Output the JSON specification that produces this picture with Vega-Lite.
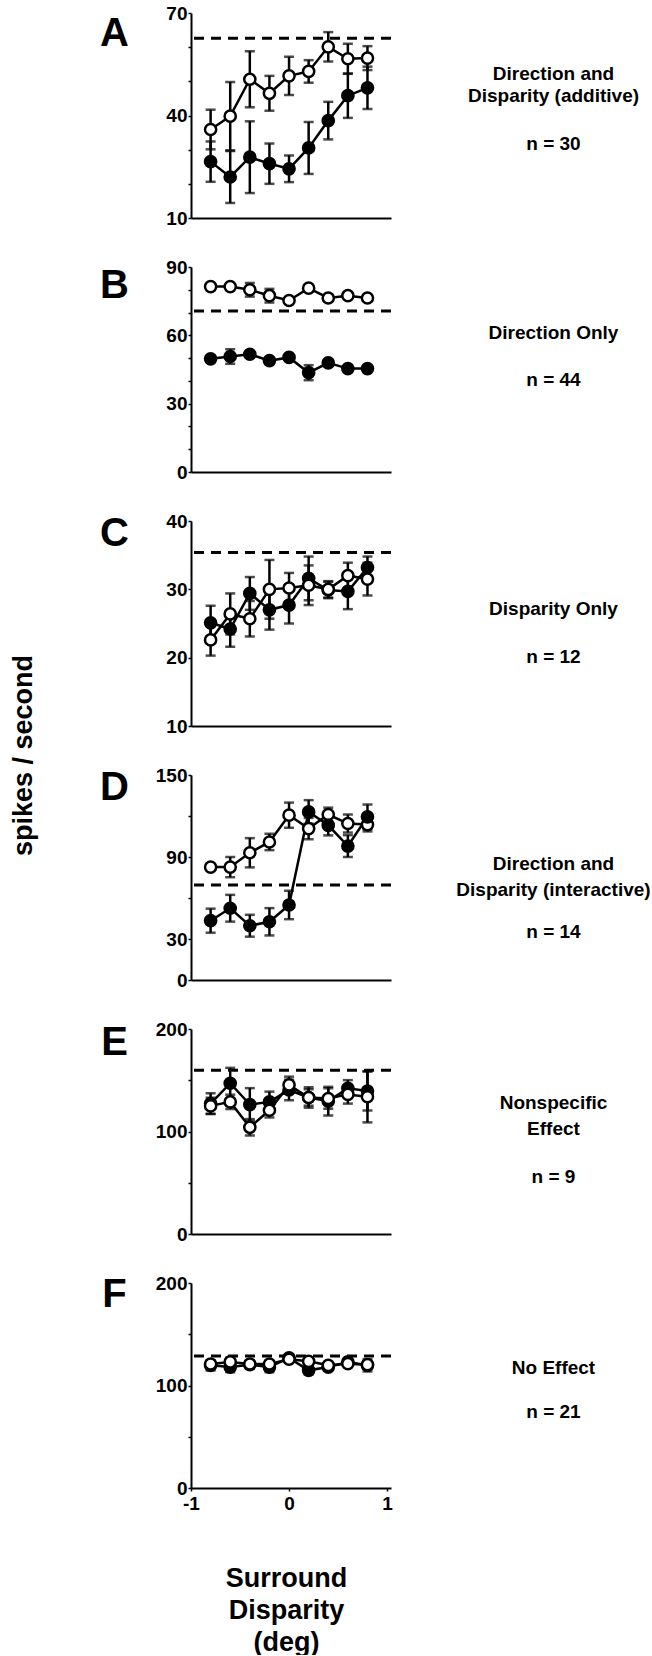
{
"$schema": "https://vega.github.io/schema/vega-lite/v6.json",
"padding": {"left": 9, "top": 4, "right": 5, "bottom": 0},
"datasets": {
"pts": [
{"panel":"A","cond":"open","x":-0.8,"y":35.9,"err":5.8},{"panel":"A","cond":"open","x":-0.6,"y":39.8,"err":10},{"panel":"A","cond":"open","x":-0.4,"y":50.6,"err":8.2},{"panel":"A","cond":"open","x":-0.2,"y":46.5,"err":5.1},{"panel":"A","cond":"open","x":0,"y":51.6,"err":5.6},{"panel":"A","cond":"open","x":0.2,"y":52.9,"err":3.3},{"panel":"A","cond":"open","x":0.4,"y":60.1,"err":4.3},{"panel":"A","cond":"open","x":0.6,"y":56.6,"err":4.4},{"panel":"A","cond":"open","x":0.8,"y":56.8,"err":3.5},
{"panel":"A","cond":"filled","x":-0.8,"y":26.5,"err":5.9},{"panel":"A","cond":"filled","x":-0.6,"y":22.0,"err":7.6},{"panel":"A","cond":"filled","x":-0.4,"y":27.8,"err":10.5},{"panel":"A","cond":"filled","x":-0.2,"y":25.9,"err":5.9},{"panel":"A","cond":"filled","x":0,"y":24.4,"err":3.9},{"panel":"A","cond":"filled","x":0.2,"y":30.5,"err":7.6},{"panel":"A","cond":"filled","x":0.4,"y":38.5,"err":5.5},{"panel":"A","cond":"filled","x":0.6,"y":45.8,"err":6.5},{"panel":"A","cond":"filled","x":0.8,"y":48.1,"err":6.2},
{"panel":"B","cond":"open","x":-0.8,"y":81.4,"err":1},{"panel":"B","cond":"open","x":-0.6,"y":81.4,"err":1},{"panel":"B","cond":"open","x":-0.4,"y":80.0,"err":3},{"panel":"B","cond":"open","x":-0.2,"y":77.4,"err":3},{"panel":"B","cond":"open","x":0,"y":75.3,"err":1},{"panel":"B","cond":"open","x":0.2,"y":80.7,"err":1},{"panel":"B","cond":"open","x":0.4,"y":76.4,"err":1},{"panel":"B","cond":"open","x":0.6,"y":77.4,"err":1},{"panel":"B","cond":"open","x":0.8,"y":76.4,"err":1},
{"panel":"B","cond":"filled","x":-0.8,"y":49.7,"err":1},{"panel":"B","cond":"filled","x":-0.6,"y":50.7,"err":3.2},{"panel":"B","cond":"filled","x":-0.4,"y":51.7,"err":1},{"panel":"B","cond":"filled","x":-0.2,"y":48.9,"err":1},{"panel":"B","cond":"filled","x":0,"y":50.3,"err":1},{"panel":"B","cond":"filled","x":0.2,"y":43.6,"err":3.3},{"panel":"B","cond":"filled","x":0.4,"y":47.9,"err":1},{"panel":"B","cond":"filled","x":0.6,"y":45.4,"err":1},{"panel":"B","cond":"filled","x":0.8,"y":45.4,"err":1},
{"panel":"C","cond":"filled","x":-0.8,"y":25.1,"err":2.5},{"panel":"C","cond":"filled","x":-0.6,"y":24.2,"err":2.6},{"panel":"C","cond":"filled","x":-0.4,"y":29.4,"err":2.4},{"panel":"C","cond":"filled","x":-0.2,"y":27.0,"err":2.9},{"panel":"C","cond":"filled","x":0,"y":27.7,"err":2.7},{"panel":"C","cond":"filled","x":0.2,"y":31.6,"err":3.2},{"panel":"C","cond":"filled","x":0.4,"y":29.9,"err":1.2},{"panel":"C","cond":"filled","x":0.6,"y":29.7,"err":2.6},{"panel":"C","cond":"filled","x":0.8,"y":33.2,"err":1.6},
{"panel":"C","cond":"open","x":-0.8,"y":22.6,"err":2.3},{"panel":"C","cond":"open","x":-0.6,"y":26.4,"err":3.0},{"panel":"C","cond":"open","x":-0.4,"y":25.7,"err":2.6},{"panel":"C","cond":"open","x":-0.2,"y":30.0,"err":4.3},{"panel":"C","cond":"open","x":0,"y":30.2,"err":2.2},{"panel":"C","cond":"open","x":0.2,"y":30.6,"err":2.9},{"panel":"C","cond":"open","x":0.4,"y":30.0,"err":1.2},{"panel":"C","cond":"open","x":0.6,"y":32.0,"err":1.9},{"panel":"C","cond":"open","x":0.8,"y":31.5,"err":2.4},
{"panel":"D","cond":"open","x":-0.8,"y":82.6,"err":1.5},{"panel":"D","cond":"open","x":-0.6,"y":82.6,"err":7.4},{"panel":"D","cond":"open","x":-0.4,"y":93.1,"err":10.7},{"panel":"D","cond":"open","x":-0.2,"y":101.0,"err":6},{"panel":"D","cond":"open","x":0,"y":120.6,"err":9.2},{"panel":"D","cond":"open","x":0.2,"y":110.8,"err":7.8},{"panel":"D","cond":"open","x":0.4,"y":121.1,"err":5},{"panel":"D","cond":"open","x":0.6,"y":114.5,"err":6.6},{"panel":"D","cond":"open","x":0.8,"y":113.7,"err":5},
{"panel":"D","cond":"filled","x":-0.8,"y":43.4,"err":8.8},{"panel":"D","cond":"filled","x":-0.6,"y":52.5,"err":9.8},{"panel":"D","cond":"filled","x":-0.4,"y":39.7,"err":8},{"panel":"D","cond":"filled","x":-0.2,"y":42.6,"err":10},{"panel":"D","cond":"filled","x":0,"y":54.9,"err":10.4},{"panel":"D","cond":"filled","x":0.2,"y":123.0,"err":8.6},{"panel":"D","cond":"filled","x":0.4,"y":113.2,"err":7.4},{"panel":"D","cond":"filled","x":0.6,"y":98.0,"err":8},{"panel":"D","cond":"filled","x":0.8,"y":119.4,"err":9},
{"panel":"E","cond":"filled","x":-0.8,"y":127.3,"err":10},{"panel":"E","cond":"filled","x":-0.6,"y":147.1,"err":15},{"panel":"E","cond":"filled","x":-0.4,"y":126.3,"err":16},{"panel":"E","cond":"filled","x":-0.2,"y":128.9,"err":10},{"panel":"E","cond":"filled","x":0,"y":140.5,"err":10},{"panel":"E","cond":"filled","x":0.2,"y":133.2,"err":10},{"panel":"E","cond":"filled","x":0.4,"y":129.6,"err":14},{"panel":"E","cond":"filled","x":0.6,"y":142.1,"err":8},{"panel":"E","cond":"filled","x":0.8,"y":139.5,"err":19},
{"panel":"E","cond":"open","x":-0.8,"y":125.0,"err":8},{"panel":"E","cond":"open","x":-0.6,"y":128.9,"err":7},{"panel":"E","cond":"open","x":-0.4,"y":104.1,"err":8},{"panel":"E","cond":"open","x":-0.2,"y":120.7,"err":7},{"panel":"E","cond":"open","x":0,"y":145.5,"err":8},{"panel":"E","cond":"open","x":0.2,"y":133.2,"err":8},{"panel":"E","cond":"open","x":0.4,"y":132.2,"err":10},{"panel":"E","cond":"open","x":0.6,"y":136.2,"err":9},{"panel":"E","cond":"open","x":0.8,"y":133.9,"err":25},
{"panel":"F","cond":"filled","x":-0.8,"y":119.7,"err":5},{"panel":"F","cond":"filled","x":-0.6,"y":118.0,"err":5},{"panel":"F","cond":"filled","x":-0.4,"y":120.3,"err":4},{"panel":"F","cond":"filled","x":-0.2,"y":118.0,"err":5},{"panel":"F","cond":"filled","x":0,"y":126.9,"err":3},{"panel":"F","cond":"filled","x":0.2,"y":114.8,"err":4},{"panel":"F","cond":"filled","x":0.4,"y":118.0,"err":3},{"panel":"F","cond":"filled","x":0.6,"y":123.0,"err":3},{"panel":"F","cond":"filled","x":0.8,"y":119.7,"err":6},
{"panel":"F","cond":"open","x":-0.8,"y":121.0,"err":3},{"panel":"F","cond":"open","x":-0.6,"y":123.0,"err":4},{"panel":"F","cond":"open","x":-0.4,"y":121.0,"err":3},{"panel":"F","cond":"open","x":-0.2,"y":121.0,"err":3},{"panel":"F","cond":"open","x":0,"y":125.6,"err":3},{"panel":"F","cond":"open","x":0.2,"y":123.6,"err":3},{"panel":"F","cond":"open","x":0.4,"y":119.7,"err":3},{"panel":"F","cond":"open","x":0.6,"y":121.3,"err":3},{"panel":"F","cond":"open","x":0.8,"y":120.3,"err":3}
],
"base": [
{"panel":"A","level":62.6},{"panel":"B","level":70.7},{"panel":"C","level":35.4},{"panel":"D","level":69.6},{"panel":"E","level":159.7},{"panel":"F","level":128.9}
]
},
"title": {"text": "spikes / second", "orient": "left", "anchor": "middle", "fontSize": 27, "offset": 62, "dx": 74},
"spacing": 30,
"vconcat": [
{
"width": 200, "height": 205,
"resolve": {"axis": {"y": "independent"}},
"layer": [
{"data": {"name": "base"}, "transform": [{"filter": "datum.panel == 'A'"}], "mark": {"type": "rule", "strokeDash": [10, 7], "strokeWidth": 3, "color": "black"},
 "encoding": {"y": {"field": "level", "type": "quantitative", "scale": {"domain": [10, 70], "nice": false, "zero": false},
  "axis": {"title": "A", "titleX": -77, "titleY": 20, "values": [10, 20, 30, 40, 50, 60, 70], "labelExpr": "indexof([10,40,70], datum.value) >= 0 ? datum.label : ''"}}}},
{"data": {"name": "pts"}, "transform": [{"filter": "datum.panel == 'A'"}], "mark": {"type": "errorbar", "ticks": true, "color": "black", "thickness": 2.5, "size": 10},
 "encoding": {"x": {"field": "x", "type": "quantitative", "scale": {"domain": [-1, 1.04], "nice": false, "zero": false},
   "axis": {"labels": false, "ticks": false, "title": "n = 30", "titleX": 362, "titleY": -84, "titleAlign": "center", "titleBaseline": "top", "titleFontSize": 19, "titleAngle": 0}},
  "y": {"field": "y", "type": "quantitative", "scale": {"domain": [10, 70], "nice": false, "zero": false}, "axis": null}, "yError": {"field": "err"}, "detail": {"field": "cond"}}},
{"data": {"name": "pts"}, "transform": [{"filter": "datum.panel == 'A'"}], "mark": {"type": "line", "color": "black", "strokeWidth": 2.5},
 "encoding": {"x": {"field": "x", "type": "quantitative", "scale": {"domain": [-1, 1.04], "nice": false, "zero": false}},
  "y": {"field": "y", "type": "quantitative", "scale": {"domain": [10, 70], "nice": false, "zero": false},
   "axis": {"orient": "right", "labels": false, "ticks": false, "domain": false, "title": ["Direction and", "Disparity (additive)"], "titleX": 162, "titleY": 51, "titleFontSize": 19, "titleLineHeight": 22, "titleBaseline": "top"}}, "detail": {"field": "cond"}}},
{"data": {"name": "pts"}, "transform": [{"filter": "datum.panel == 'A'"}], "mark": {"type": "point", "shape": "circle", "filled": true, "stroke": "black", "strokeWidth": 2.5, "size": 125, "opacity": 1},
 "encoding": {"x": {"field": "x", "type": "quantitative", "scale": {"domain": [-1, 1.04], "nice": false, "zero": false}},
  "y": {"field": "y", "type": "quantitative", "scale": {"domain": [10, 70], "nice": false, "zero": false}, "axis": null},
  "fill": {"field": "cond", "type": "nominal", "scale": {"domain": ["filled", "open"], "range": ["black", "white"]}, "legend": null}}}
]
},
{
"width": 200, "height": 205,
"resolve": {"axis": {"y": "independent"}},
"layer": [
{"data": {"name": "base"}, "transform": [{"filter": "datum.panel == 'B'"}], "mark": {"type": "rule", "strokeDash": [10, 7], "strokeWidth": 3, "color": "black"},
 "encoding": {"y": {"field": "level", "type": "quantitative", "scale": {"domain": [0, 90], "nice": false, "zero": false},
  "axis": {"title": "B", "titleX": -77, "titleY": 18, "values": [0, 10, 20, 30, 40, 50, 60, 70, 80, 90], "labelExpr": "indexof([0,30,60,90], datum.value) >= 0 ? datum.label : ''"}}}},
{"data": {"name": "pts"}, "transform": [{"filter": "datum.panel == 'B'"}], "mark": {"type": "errorbar", "ticks": true, "color": "black", "thickness": 2.5, "size": 10},
 "encoding": {"x": {"field": "x", "type": "quantitative", "scale": {"domain": [-1, 1.04], "nice": false, "zero": false},
   "axis": {"labels": false, "ticks": false, "title": "n = 44", "titleX": 362, "titleY": -102, "titleAlign": "center", "titleBaseline": "top", "titleFontSize": 19, "titleAngle": 0}},
  "y": {"field": "y", "type": "quantitative", "scale": {"domain": [0, 90], "nice": false, "zero": false}, "axis": null}, "yError": {"field": "err"}, "detail": {"field": "cond"}}},
{"data": {"name": "pts"}, "transform": [{"filter": "datum.panel == 'B'"}], "mark": {"type": "line", "color": "black", "strokeWidth": 2.5},
 "encoding": {"x": {"field": "x", "type": "quantitative", "scale": {"domain": [-1, 1.04], "nice": false, "zero": false}},
  "y": {"field": "y", "type": "quantitative", "scale": {"domain": [0, 90], "nice": false, "zero": false},
   "axis": {"orient": "right", "labels": false, "ticks": false, "domain": false, "title": "Direction Only", "titleX": 162, "titleY": 56, "titleFontSize": 19, "titleBaseline": "top"}}, "detail": {"field": "cond"}}},
{"data": {"name": "pts"}, "transform": [{"filter": "datum.panel == 'B'"}], "mark": {"type": "point", "shape": "circle", "filled": true, "stroke": "black", "strokeWidth": 2.5, "size": 125, "opacity": 1},
 "encoding": {"x": {"field": "x", "type": "quantitative", "scale": {"domain": [-1, 1.04], "nice": false, "zero": false}},
  "y": {"field": "y", "type": "quantitative", "scale": {"domain": [0, 90], "nice": false, "zero": false}, "axis": null},
  "fill": {"field": "cond", "type": "nominal", "scale": {"domain": ["filled", "open"], "range": ["black", "white"]}, "legend": null}}}
]
},
{
"width": 200, "height": 205,
"resolve": {"axis": {"y": "independent"}},
"layer": [
{"data": {"name": "base"}, "transform": [{"filter": "datum.panel == 'C'"}], "mark": {"type": "rule", "strokeDash": [10, 7], "strokeWidth": 3, "color": "black"},
 "encoding": {"y": {"field": "level", "type": "quantitative", "scale": {"domain": [10, 40], "nice": false, "zero": false},
  "axis": {"title": "C", "titleX": -77, "titleY": 12, "values": [10, 20, 30, 40]}}}},
{"data": {"name": "pts"}, "transform": [{"filter": "datum.panel == 'C'"}], "mark": {"type": "errorbar", "ticks": true, "color": "black", "thickness": 2.5, "size": 10},
 "encoding": {"x": {"field": "x", "type": "quantitative", "scale": {"domain": [-1, 1.04], "nice": false, "zero": false},
   "axis": {"labels": false, "ticks": false, "title": "n = 12", "titleX": 362, "titleY": -79, "titleAlign": "center", "titleBaseline": "top", "titleFontSize": 19, "titleAngle": 0}},
  "y": {"field": "y", "type": "quantitative", "scale": {"domain": [10, 40], "nice": false, "zero": false}, "axis": null}, "yError": {"field": "err"}, "detail": {"field": "cond"}}},
{"data": {"name": "pts"}, "transform": [{"filter": "datum.panel == 'C'"}], "mark": {"type": "line", "color": "black", "strokeWidth": 2.5},
 "encoding": {"x": {"field": "x", "type": "quantitative", "scale": {"domain": [-1, 1.04], "nice": false, "zero": false}},
  "y": {"field": "y", "type": "quantitative", "scale": {"domain": [10, 40], "nice": false, "zero": false},
   "axis": {"orient": "right", "labels": false, "ticks": false, "domain": false, "title": "Disparity Only", "titleX": 162, "titleY": 78, "titleFontSize": 19, "titleBaseline": "top"}}, "detail": {"field": "cond"}}},
{"data": {"name": "pts"}, "transform": [{"filter": "datum.panel == 'C'"}], "mark": {"type": "point", "shape": "circle", "filled": true, "stroke": "black", "strokeWidth": 2.5, "size": 125, "opacity": 1},
 "encoding": {"x": {"field": "x", "type": "quantitative", "scale": {"domain": [-1, 1.04], "nice": false, "zero": false}},
  "y": {"field": "y", "type": "quantitative", "scale": {"domain": [10, 40], "nice": false, "zero": false}, "axis": null},
  "fill": {"field": "cond", "type": "nominal", "scale": {"domain": ["filled", "open"], "range": ["black", "white"]}, "legend": null}}}
]
},
{
"width": 200, "height": 205,
"resolve": {"axis": {"y": "independent"}},
"layer": [
{"data": {"name": "base"}, "transform": [{"filter": "datum.panel == 'D'"}], "mark": {"type": "rule", "strokeDash": [10, 7], "strokeWidth": 3, "color": "black"},
 "encoding": {"y": {"field": "level", "type": "quantitative", "scale": {"domain": [0, 150], "nice": false, "zero": false},
  "axis": {"title": "D", "titleX": -77, "titleY": 12, "values": [0, 30, 60, 90, 120, 150], "labelExpr": "indexof([0,30,90,150], datum.value) >= 0 ? datum.label : ''"}}}},
{"data": {"name": "pts"}, "transform": [{"filter": "datum.panel == 'D'"}], "mark": {"type": "errorbar", "ticks": true, "color": "black", "thickness": 2.5, "size": 10},
 "encoding": {"x": {"field": "x", "type": "quantitative", "scale": {"domain": [-1, 1.04], "nice": false, "zero": false},
   "axis": {"labels": false, "ticks": false, "title": "n = 14", "titleX": 362, "titleY": -58, "titleAlign": "center", "titleBaseline": "top", "titleFontSize": 19, "titleAngle": 0}},
  "y": {"field": "y", "type": "quantitative", "scale": {"domain": [0, 150], "nice": false, "zero": false}, "axis": null}, "yError": {"field": "err"}, "detail": {"field": "cond"}}},
{"data": {"name": "pts"}, "transform": [{"filter": "datum.panel == 'D'"}], "mark": {"type": "line", "color": "black", "strokeWidth": 2.5},
 "encoding": {"x": {"field": "x", "type": "quantitative", "scale": {"domain": [-1, 1.04], "nice": false, "zero": false}},
  "y": {"field": "y", "type": "quantitative", "scale": {"domain": [0, 150], "nice": false, "zero": false},
   "axis": {"orient": "right", "labels": false, "ticks": false, "domain": false, "title": ["Direction and", "Disparity (interactive)"], "titleX": 162, "titleY": 79, "titleFontSize": 19, "titleLineHeight": 26, "titleBaseline": "top"}}, "detail": {"field": "cond"}}},
{"data": {"name": "pts"}, "transform": [{"filter": "datum.panel == 'D'"}], "mark": {"type": "point", "shape": "circle", "filled": true, "stroke": "black", "strokeWidth": 2.5, "size": 125, "opacity": 1},
 "encoding": {"x": {"field": "x", "type": "quantitative", "scale": {"domain": [-1, 1.04], "nice": false, "zero": false}},
  "y": {"field": "y", "type": "quantitative", "scale": {"domain": [0, 150], "nice": false, "zero": false}, "axis": null},
  "fill": {"field": "cond", "type": "nominal", "scale": {"domain": ["filled", "open"], "range": ["black", "white"]}, "legend": null}}}
]
},
{
"width": 200, "height": 205,
"resolve": {"axis": {"y": "independent"}},
"layer": [
{"data": {"name": "base"}, "transform": [{"filter": "datum.panel == 'E'"}], "mark": {"type": "rule", "strokeDash": [10, 7], "strokeWidth": 3, "color": "black"},
 "encoding": {"y": {"field": "level", "type": "quantitative", "scale": {"domain": [0, 200], "nice": false, "zero": false},
  "axis": {"title": "E", "titleX": -77, "titleY": 13, "values": [0, 50, 100, 150, 200], "labelExpr": "indexof([0,100,200], datum.value) >= 0 ? datum.label : ''"}}}},
{"data": {"name": "pts"}, "transform": [{"filter": "datum.panel == 'E'"}], "mark": {"type": "errorbar", "ticks": true, "color": "black", "thickness": 2.5, "size": 10},
 "encoding": {"x": {"field": "x", "type": "quantitative", "scale": {"domain": [-1, 1.04], "nice": false, "zero": false},
   "axis": {"labels": false, "ticks": false, "title": "n = 9", "titleX": 362, "titleY": -67, "titleAlign": "center", "titleBaseline": "top", "titleFontSize": 19, "titleAngle": 0}},
  "y": {"field": "y", "type": "quantitative", "scale": {"domain": [0, 200], "nice": false, "zero": false}, "axis": null}, "yError": {"field": "err"}, "detail": {"field": "cond"}}},
{"data": {"name": "pts"}, "transform": [{"filter": "datum.panel == 'E'"}], "mark": {"type": "line", "color": "black", "strokeWidth": 2.5},
 "encoding": {"x": {"field": "x", "type": "quantitative", "scale": {"domain": [-1, 1.04], "nice": false, "zero": false}},
  "y": {"field": "y", "type": "quantitative", "scale": {"domain": [0, 200], "nice": false, "zero": false},
   "axis": {"orient": "right", "labels": false, "ticks": false, "domain": false, "title": ["Nonspecific", "Effect"], "titleX": 162, "titleY": 64, "titleFontSize": 19, "titleLineHeight": 26, "titleBaseline": "top"}}, "detail": {"field": "cond"}}},
{"data": {"name": "pts"}, "transform": [{"filter": "datum.panel == 'E'"}], "mark": {"type": "point", "shape": "circle", "filled": true, "stroke": "black", "strokeWidth": 2.5, "size": 125, "opacity": 1},
 "encoding": {"x": {"field": "x", "type": "quantitative", "scale": {"domain": [-1, 1.04], "nice": false, "zero": false}},
  "y": {"field": "y", "type": "quantitative", "scale": {"domain": [0, 200], "nice": false, "zero": false}, "axis": null},
  "fill": {"field": "cond", "type": "nominal", "scale": {"domain": ["filled", "open"], "range": ["black", "white"]}, "legend": null}}}
]
},
{
"width": 200, "height": 205,
"resolve": {"axis": {"y": "independent"}},
"layer": [
{"data": {"name": "base"}, "transform": [{"filter": "datum.panel == 'F'"}], "mark": {"type": "rule", "strokeDash": [10, 7], "strokeWidth": 3, "color": "black"},
 "encoding": {"y": {"field": "level", "type": "quantitative", "scale": {"domain": [0, 200], "nice": false, "zero": false},
  "axis": {"title": "F", "titleX": -77, "titleY": 11, "values": [0, 50, 100, 150, 200], "labelExpr": "indexof([0,100,200], datum.value) >= 0 ? datum.label : ''"}}}},
{"data": {"name": "pts"}, "transform": [{"filter": "datum.panel == 'F'"}], "mark": {"type": "errorbar", "ticks": true, "color": "black", "thickness": 2.5, "size": 10},
 "encoding": {"x": {"field": "x", "type": "quantitative", "scale": {"domain": [-1, 1.04], "nice": false, "zero": false},
   "axis": {"values": [-1, 0, 1], "labelExpr": "datum.value == 0 ? '0' : (datum.value < 0 ? '-1' : '1')", "labels": true, "ticks": true, "title": ["Surround", "Disparity", "(deg)"], "titleFontSize": 27, "titleLineHeight": 32, "titlePadding": 52, "titleX": 95, "titleBaseline": "top", "labelPadding": 3}},
  "y": {"field": "y", "type": "quantitative", "scale": {"domain": [0, 200], "nice": false, "zero": false}, "axis": null}, "yError": {"field": "err"}, "detail": {"field": "cond"}}},
{"data": {"name": "pts"}, "transform": [{"filter": "datum.panel == 'F'"}], "mark": {"type": "line", "color": "black", "strokeWidth": 2.5},
 "encoding": {"x": {"field": "x", "type": "quantitative", "scale": {"domain": [-1, 1.04], "nice": false, "zero": false}},
  "y": {"field": "y", "type": "quantitative", "scale": {"domain": [0, 200], "nice": false, "zero": false},
   "axis": {"orient": "right", "labels": false, "ticks": false, "domain": false, "title": ["No Effect", "n = 21"], "titleX": 162, "titleY": 75, "titleFontSize": 19, "titleLineHeight": 44, "titleBaseline": "top"}}, "detail": {"field": "cond"}}},
{"data": {"name": "pts"}, "transform": [{"filter": "datum.panel == 'F'"}], "mark": {"type": "point", "shape": "circle", "filled": true, "stroke": "black", "strokeWidth": 2.5, "size": 125, "opacity": 1},
 "encoding": {"x": {"field": "x", "type": "quantitative", "scale": {"domain": [-1, 1.04], "nice": false, "zero": false}},
  "y": {"field": "y", "type": "quantitative", "scale": {"domain": [0, 200], "nice": false, "zero": false}, "axis": null},
  "fill": {"field": "cond", "type": "nominal", "scale": {"domain": ["filled", "open"], "range": ["black", "white"]}, "legend": null}}}
]
}
],
"config": {
"view": {"stroke": null},
"font": "Liberation Sans",
"title": {"font": "Liberation Sans", "fontWeight": "bold", "fontSize": 19, "color": "black", "lineHeight": 23},
"axis": {"domainColor": "black", "domainWidth": 2, "tickColor": "black", "tickWidth": 1.5, "tickSize": 3, "labelFont": "Liberation Sans", "labelFontSize": 19, "labelFontWeight": "bold", "labelColor": "black", "labelPadding": 1, "labelOverlap": false, "labelFlush": false, "grid": false, "titleColor": "black", "titleFont": "Liberation Sans", "titleFontWeight": "bold"},
"axisY": {"titleAngle": 0, "titleFontSize": 40, "titleAlign": "center", "titleBaseline": "middle"}
}
}
